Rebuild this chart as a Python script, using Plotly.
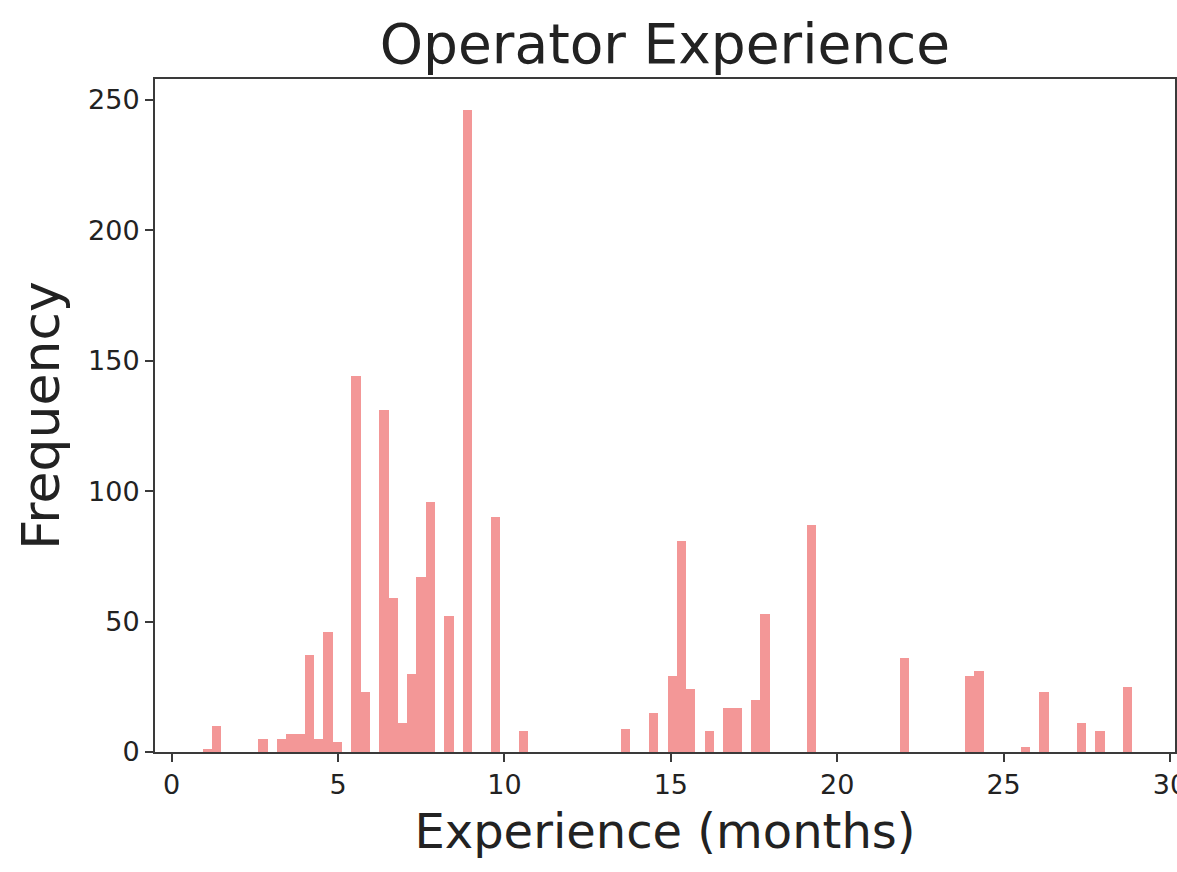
import plotly.graph_objects as go

# Histogram settings (100 equal bins between min and max experience)
bin_start = 0.93
bin_end = 28.87
n_bins = 100

# Non-empty bins: index of bin and its frequency
bin_index = [0, 1, 6, 8, 9, 10, 11, 12, 13, 14, 16, 17, 19, 20, 21, 22, 23, 24,
             26, 28, 31, 34, 45, 48, 50, 51, 52, 54, 56, 57, 59, 60, 65, 75,
             82, 83, 88, 90, 94, 96, 99]
frequency = [1, 10, 5, 5, 7, 7, 37, 5, 46, 4, 144, 23, 131, 59, 11, 30, 67, 96,
             52, 246, 90, 8, 9, 15, 29, 81, 24, 8, 17, 17, 20, 53, 87, 36,
             29, 31, 2, 23, 11, 8, 25]

x_ticks = [0, 5, 10, 15, 20, 25, 30]
y_ticks = [0, 50, 100, 150, 200, 250]

bin_width = (bin_end - bin_start) / n_bins
counts = [0] * n_bins
for i, f in zip(bin_index, frequency):
    counts[i] = f
centers = [bin_start + (k + 0.5) * bin_width for k in range(n_bins)]

fig = go.Figure(go.Bar(
    x=centers, y=counts, width=bin_width,
    marker=dict(color="rgba(240,128,128,0.82)", line=dict(width=0)),
))

font = "DejaVu Sans"
axis_common = dict(
    showline=True, mirror=True, linecolor="#3a3a3a", linewidth=2,
    ticks="outside", ticklen=8, tickwidth=2, tickcolor="#3a3a3a",
    showgrid=False, zeroline=False, automargin=False,
    tickfont=dict(family=font, size=27, color="#222222"),
    ticklabeloverflow="allow",
)

fig.update_layout(
    width=1177, height=872,
    margin=dict(l=155, r=2, t=79, b=120),
    paper_bgcolor="white", plot_bgcolor="white",
    title=dict(text="Operator Experience", x=0.5, xref="paper", xanchor="center",
               y=0.950, yanchor="middle",
               font=dict(family=font, size=55, color="#222222")),
    xaxis=dict(range=[-0.5, 30.15], tickvals=x_ticks,
               title=dict(text="Experience (months)", standoff=15,
                          font=dict(family=font, size=48, color="#222222")),
               **axis_common),
    yaxis=dict(range=[0, 258], tickvals=y_ticks,
               title=dict(text="Frequency", standoff=12,
                          font=dict(family=font, size=52, color="#222222")),
               **axis_common),
    showlegend=False,
    bargap=0,
)

fig.write_html(
    "out.html",
    config={"displayModeBar": False, "responsive": False},
    post_script="document.body.style.margin='0px';document.body.style.overflow='hidden';",
)
